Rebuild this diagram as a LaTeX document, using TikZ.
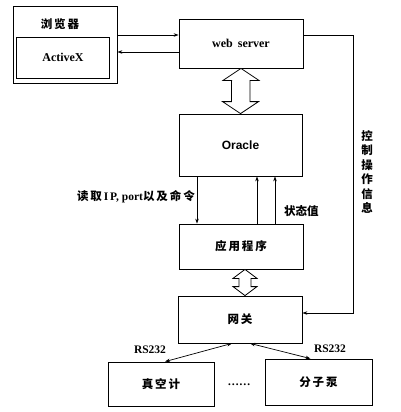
\documentclass[tikz,border=0pt]{standalone}
\usepackage{fontspec}
\setmainfont{Liberation Serif}
\newfontfamily\cjk{Noto Sans CJK SC}
\usetikzlibrary{arrows.meta,calc}
\begin{document}
\begin{tikzpicture}[x=1pt,y=-1pt,
  box/.style={draw, line width=0.8pt, inner sep=0pt, font=\bfseries\fontsize{12}{14}\selectfont},
  arr/.style={line width=0.7pt, -{Stealth[length=5pt,width=3.5pt]}},
  darr/.style={line width=0.7pt, {Stealth[length=5pt,width=3.5pt]}-{Stealth[length=5pt,width=3.5pt]}},
  fat/.style={draw, line width=0.8pt, fill=white, line join=miter},
  lbl/.style={font=\bfseries\fontsize{11.5}{14}\selectfont, inner sep=1pt}]
\useasboundingbox (0,0) rectangle (401,412);
% nodes
\node[box, minimum width=104pt, minimum height=77pt] (browser) at (65,44.5) {};
\node[lbl] (browserlbl) at (60,24) {\cjk 浏\,览\,器};
\node[box, minimum width=93pt, minimum height=41pt] (activex) at (63,57.5) {ActiveX};
\node[box, minimum width=124pt, minimum height=49pt] (web) at (241,43.5) {web\, server};
\node[box, minimum width=123pt, minimum height=62pt] (oracle) at (240.5,145) {\fontspec{Liberation Sans}\bfseries Oracle};
\node[box, minimum width=124pt, minimum height=45pt] (app) at (241,246.5) {\cjk\fontsize{11.5}{14}\selectfont 应\,用\,程\,序};
\node[box, minimum width=124pt, minimum height=47pt] (gw) at (240,319.5) {\cjk\fontsize{11.5}{14}\selectfont 网\,关};
\node[box, minimum width=106pt, minimum height=44pt] (vac) at (161,384) {\cjk\fontsize{11.5}{14}\selectfont 真\,空\,计};
\node[box, minimum width=107pt, minimum height=46pt] (pump) at (318.5,382) {\cjk\fontsize{11.5}{14}\selectfont 分\,子\,泵};
\node[lbl] (dots) at (239,385) {……};
% browser <-> web
\draw[arr] (browser.east |- 0,35) -- (web.west |- 0,35);
\draw[arr] (web.west |- 0,52) -- (browser.east |- 0,52);
% web <=> oracle fat arrow
\coordinate (wa) at (web.south);
\coordinate (ob) at (oracle.north);
\draw[fat] ($(wa)$) -- ++(18,12) -- ++(-9,0) |- ($(ob)+(9,-12)$) -- ++(9,0) -- (ob) -- ++(-18,-12) -- ++(9,0) |- ($(wa)+(-9,12)$) -- ++(-9,0) -- cycle;
% app <=> gw fat arrow
\coordinate (ab) at ($(app.south)+(4,0)$);
\coordinate (gt) at ($(gw.north)+(5,0)$);
\draw[fat] (ab) -- ++(12,9) -- ++(-6,0) |- ($(gt)+(6,-9)$) -- ++(6,0) -- (gt) -- ++(-12,-9) -- ++(6,0) |- ($(ab)+(-6,9)$) -- ++(-6,0) -- cycle;
% read IP arrow
\draw[arr] (oracle.south -| 197,0) -- (app.north -| 197,0);
\node[lbl, anchor=east] (readlbl) at (196,197) {{\cjk 读\,取\,}I\,P, port{\cjk 以\,及\,命\,令}};
% state value arrows
\draw[arr] (app.north -| 257,0) -- (oracle.south -| 257,0);
\draw[arr] (app.north -| 275,0) -- (oracle.south -| 275,0);
\node[lbl, anchor=west] (statelbl) at (283,211) {\cjk 状态值};
% control line
\coordinate (c1) at (353,35);
\coordinate (c2) at (353,313);
\draw[arr] (web.east |- c1) -- (c1) -- (c2) -- (gw.east |- c2);
\node[lbl, align=center, font=\bfseries\fontsize{11.5}{14.5}\selectfont] (ctrllbl) at (367,172) {\cjk 控\\\cjk 制\\\cjk 操\\\cjk 作\\\cjk 信\\\cjk 息};
% RS232 links
\draw[darr] ($(gw.south)+(-8,0)$) -- ($(vac.north)+(4,0)$);
\draw[darr] ($(gw.south)+(10,0)$) -- ($(pump.north)+(-8,0)$);
\node[lbl] (rs1) at (150,350) {RS232};
\node[lbl] (rs2) at (330,349) {RS232};
\end{tikzpicture}
\end{document}
